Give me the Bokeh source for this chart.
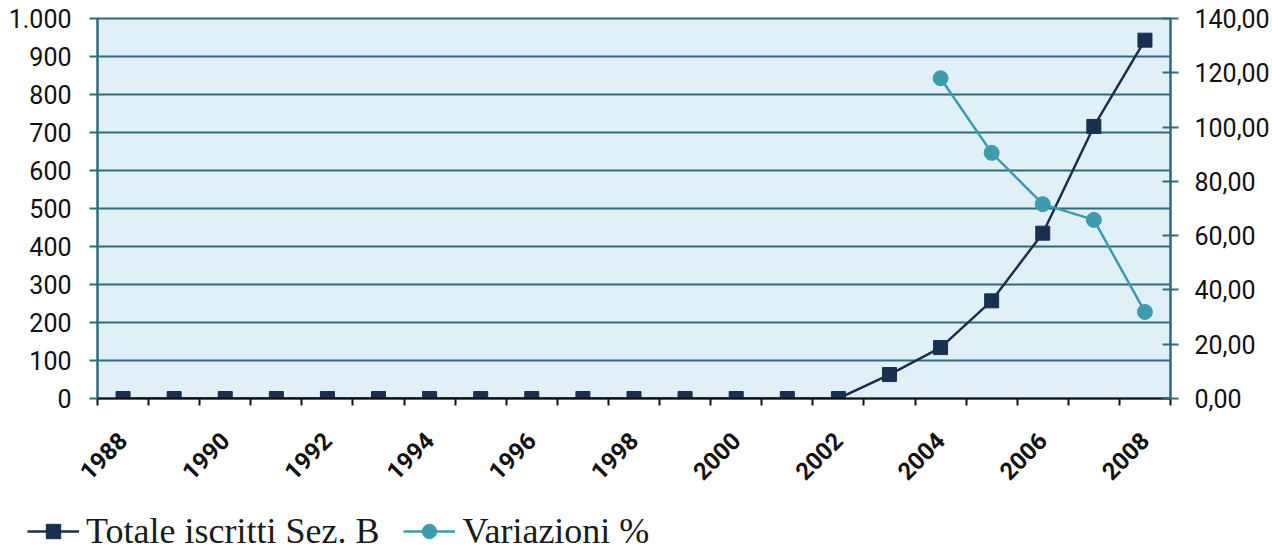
import math
from bokeh.plotting import figure
from bokeh.layouts import column, row
from bokeh.models import Range1d, LinearAxis, FixedTicker, Legend, LegendItem
from bokeh.embed import file_html
from bokeh.resources import INLINE

# ---- data ----
years = [1988, 1989, 1990, 1991, 1992, 1993, 1994, 1995, 1996, 1997, 1998,
         1999, 2000, 2001, 2002, 2003, 2004, 2005, 2006, 2007, 2008]
totale = [0, 0, 0, 0, 0, 0, 0, 0, 0, 0, 0,
          0, 0, 0, 0, 63, 134, 257, 435, 716, 943]
var_years = [2004, 2005, 2006, 2007, 2008]
variazioni = [118.0, 90.5, 71.6, 65.8, 31.9]

label_years = [1988, 1990, 1992, 1994, 1996, 1998, 2000, 2002, 2004, 2006, 2008]
left_ticks = [0, 100, 200, 300, 400, 500, 600, 700, 800, 900, 1000]
left_labels = ["0", "100", "200", "300", "400", "500", "600", "700", "800", "900", "1.000"]
right_ticks = [0, 20, 40, 60, 80, 100, 120, 140]
right_labels = ["0,00", "20,00", "40,00", "60,00", "80,00", "100,00", "120,00", "140,00"]

series_names = ["Totale iscritti Sez. B", "Variazioni %"]

# ---- styles ----
TEAL = "#2d6c7b"
NAVY = "#17304f"
LIGHT = "#3d9bb0"
BG = "#e1f0f6"

boundaries = [y - 0.5 for y in years] + [years[-1] + 0.5]

p = figure(width=1272, height=496,
           x_range=Range1d(boundaries[0], boundaries[-1]),
           y_range=Range1d(left_ticks[0], left_ticks[-1]),
           output_backend="svg", toolbar_location=None,
           min_border_left=97, min_border_right=100,
           min_border_top=18, min_border_bottom=98,
           background_fill_color=BG, border_fill_color="white",
           outline_line_color=TEAL, outline_line_width=2)

p.extra_y_ranges = {"var": Range1d(right_ticks[0], right_ticks[-1])}

# grid
p.xgrid.visible = False
p.ygrid.ticker = FixedTicker(ticks=left_ticks)
p.ygrid.grid_line_color = TEAL
p.ygrid.grid_line_width = 2

# left axis
ya = p.yaxis[0]
ya.ticker = FixedTicker(ticks=left_ticks)
ya.major_label_overrides = dict(zip(left_ticks, left_labels))
ya.axis_line_color = TEAL
ya.axis_line_width = 2
ya.major_tick_line_color = TEAL
ya.major_tick_line_width = 2
ya.major_tick_out = 8
ya.major_tick_in = 0
ya.minor_tick_line_color = None
ya.major_label_standoff = 18
ya.major_label_text_font = "Roboto"
ya.major_label_text_font_size = "25px"
ya.major_label_text_color = "#111111"

# right axis
ra = LinearAxis(y_range_name="var", ticker=FixedTicker(ticks=right_ticks),
                major_label_overrides=dict(zip(right_ticks, right_labels)))
ra.axis_line_color = TEAL
ra.axis_line_width = 2
ra.major_tick_line_color = TEAL
ra.major_tick_line_width = 2
ra.major_tick_out = 8
ra.major_tick_in = 8
ra.minor_tick_line_color = None
ra.major_label_standoff = 16
ra.major_label_text_font = "Roboto"
ra.major_label_text_font_size = "25px"
ra.major_label_text_color = "#111111"
p.add_layout(ra, "right")

# bottom axis
xa = p.xaxis[0]
xa.ticker = FixedTicker(ticks=label_years, minor_ticks=boundaries)
xa.axis_line_color = "#111111"
xa.axis_line_width = 2
xa.major_tick_out = 0
xa.major_tick_in = 0
xa.major_tick_line_color = None
xa.minor_tick_out = 7
xa.minor_tick_in = 0
xa.minor_tick_line_color = "#111111"
xa.minor_tick_line_width = 2
xa.major_label_orientation = math.pi / 4
xa.major_label_standoff = 31
xa.major_label_text_font = "Roboto"
xa.major_label_text_font_style = "bold"
xa.major_label_text_font_size = "24px"
xa.major_label_text_color = "#111111"

# series
p.line(years, totale, line_color=NAVY, line_width=2.5)
p.scatter(years, totale, marker="square", size=14, fill_color=NAVY, line_color=NAVY)
p.line(var_years, variazioni, y_range_name="var", line_color=LIGHT, line_width=2.5)
p.scatter(var_years, variazioni, y_range_name="var", marker="circle", size=15,
          fill_color=LIGHT, line_color=LIGHT)

# legend strip (own small figure under the chart); its renderers are hidden,
# they only supply the legend swatches
lg = figure(width=1272, height=56, x_range=Range1d(0, 1), y_range=Range1d(0, 1),
            output_backend="svg", toolbar_location=None,
            x_axis_type=None, y_axis_type=None, min_border=0,
            outline_line_color=None, background_fill_color="white",
            border_fill_color="white")
if "frame_align" in lg.properties():
    lg.frame_align = False
lg.xgrid.visible = False
lg.ygrid.visible = False
l1 = lg.line(years, totale, line_color=NAVY, line_width=2.5, visible=False)
m1 = lg.scatter(years, totale, marker="square", size=14, fill_color=NAVY,
                line_color=NAVY, visible=False)
l2 = lg.line(var_years, variazioni, line_color=LIGHT, line_width=2.5, visible=False)
m2 = lg.scatter(var_years, variazioni, marker="circle", size=15, fill_color=LIGHT,
                line_color=LIGHT, visible=False)

legend = Legend(items=[LegendItem(label=series_names[0], renderers=[l1, m1]),
                       LegendItem(label=series_names[1], renderers=[l2, m2])],
                orientation="horizontal", location=(27, 0),
                border_line_color=None, background_fill_alpha=0,
                inactive_fill_alpha=0,
                padding=0, margin=0, spacing=24, glyph_width=52, glyph_height=36,
                label_standoff=7, label_text_font="Liberation Serif",
                label_text_font_size="36px", label_text_color="#1a1a1a")
lg.add_layout(legend, "center")

open("out.html", "w").write(file_html(column(p, row(lg), spacing=0), INLINE))
